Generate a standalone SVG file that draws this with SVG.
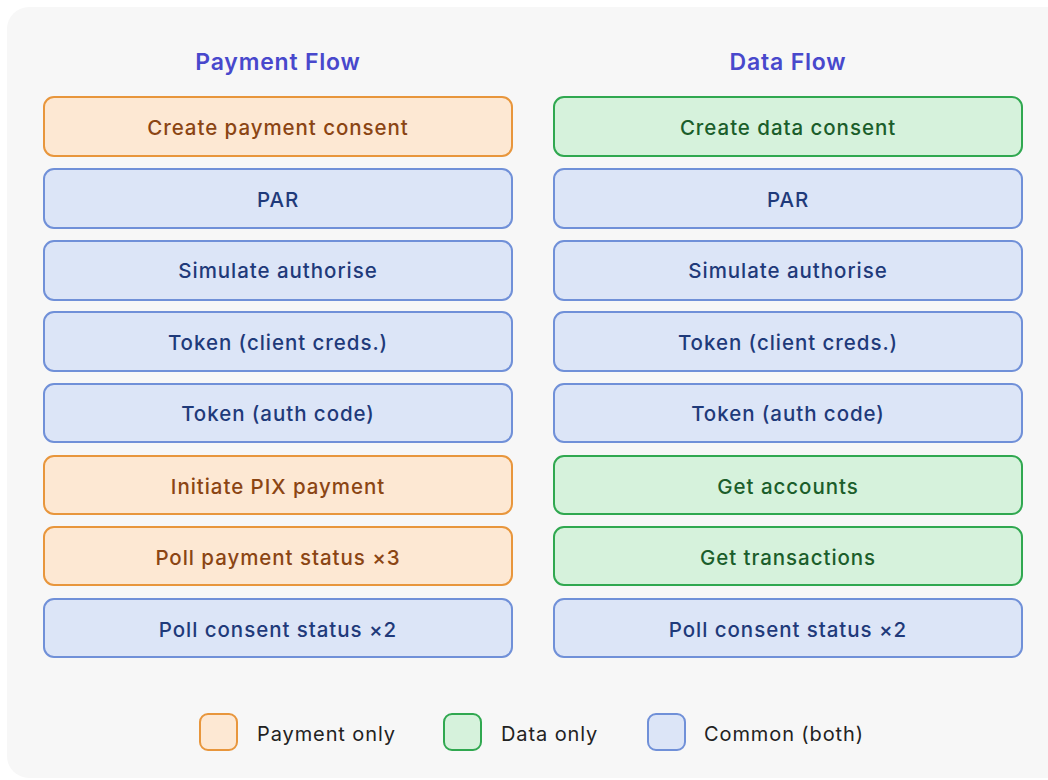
<svg xmlns="http://www.w3.org/2000/svg" width="1048" height="780" viewBox="0 0 1048 780">
<style>
text{font-family:Inter,"Noto Sans","Liberation Sans",sans-serif;text-anchor:middle;dominant-baseline:central}
.title{font-size:23px;font-weight:600;fill:#4848cc;letter-spacing:0.8px}
.lbl{font-size:20.5px;font-weight:500;letter-spacing:0.95px}
.pay rect{fill:#fde8d3;stroke:#e8963c;stroke-width:2}
.pay text{fill:#8b4513}
.com rect{fill:#dce5f7;stroke:#7090d8;stroke-width:2}
.com text{fill:#1f3a7a}
.dat rect{fill:#d6f2dc;stroke:#30a850;stroke-width:2}
.dat text{fill:#1b5e2b}
.leg{font-size:20px;fill:#222;text-anchor:start;letter-spacing:0.9px}
</style>
<rect x="0" y="0" width="1048" height="780" fill="#ffffff"/>
<rect x="7" y="7" width="1061" height="771" rx="22" fill="#f7f7f7"/>
<text class="title" x="278" y="62">Payment Flow</text>
<text class="title" x="788" y="62">Data Flow</text>
<g id="connectors"/>
<g id="p1" class="pay"><rect x="44" y="97" width="468" height="59" rx="10"/><text class="lbl" x="278" y="127">Create payment consent</text></g>
<g id="p2" class="com"><rect x="44" y="169" width="468" height="59" rx="10"/><text class="lbl" x="278" y="199">PAR</text></g>
<g id="p3" class="com"><rect x="44" y="241" width="468" height="59" rx="10"/><text class="lbl" x="278" y="270">Simulate authorise</text></g>
<g id="p4" class="com"><rect x="44" y="312" width="468" height="59" rx="10"/><text class="lbl" x="278" y="342">Token (client creds.)</text></g>
<g id="p5" class="com"><rect x="44" y="384" width="468" height="58" rx="10"/><text class="lbl" x="278" y="413">Token (auth code)</text></g>
<g id="p6" class="pay"><rect x="44" y="456" width="468" height="58" rx="10"/><text class="lbl" x="278" y="486">Initiate PIX payment</text></g>
<g id="p7" class="pay"><rect x="44" y="527" width="468" height="58" rx="10"/><text class="lbl" x="278" y="557">Poll payment status ×3</text></g>
<g id="p8" class="com"><rect x="44" y="599" width="468" height="58" rx="10"/><text class="lbl" x="278" y="629">Poll consent status ×2</text></g>
<g id="d1" class="dat"><rect x="554" y="97" width="468" height="59" rx="10"/><text class="lbl" x="788" y="127">Create data consent</text></g>
<g id="d2" class="com"><rect x="554" y="169" width="468" height="59" rx="10"/><text class="lbl" x="788" y="199">PAR</text></g>
<g id="d3" class="com"><rect x="554" y="241" width="468" height="59" rx="10"/><text class="lbl" x="788" y="270">Simulate authorise</text></g>
<g id="d4" class="com"><rect x="554" y="312" width="468" height="59" rx="10"/><text class="lbl" x="788" y="342">Token (client creds.)</text></g>
<g id="d5" class="com"><rect x="554" y="384" width="468" height="58" rx="10"/><text class="lbl" x="788" y="413">Token (auth code)</text></g>
<g id="d6" class="dat"><rect x="554" y="456" width="468" height="58" rx="10"/><text class="lbl" x="788" y="486">Get accounts</text></g>
<g id="d7" class="dat"><rect x="554" y="527" width="468" height="58" rx="10"/><text class="lbl" x="788" y="557">Get transactions</text></g>
<g id="d8" class="com"><rect x="554" y="599" width="468" height="58" rx="10"/><text class="lbl" x="788" y="629">Poll consent status ×2</text></g>
<g id="legend">
<g class="pay"><rect x="200" y="714" width="37" height="36" rx="8"/></g>
<text class="leg" x="257" y="734">Payment only</text>
<g class="dat"><rect x="444" y="714" width="37" height="36" rx="8"/></g>
<text class="leg" x="501" y="734">Data only</text>
<g class="com"><rect x="648" y="714" width="37" height="36" rx="8"/></g>
<text class="leg" x="704" y="734">Common (both)</text>
</g>
</svg>
